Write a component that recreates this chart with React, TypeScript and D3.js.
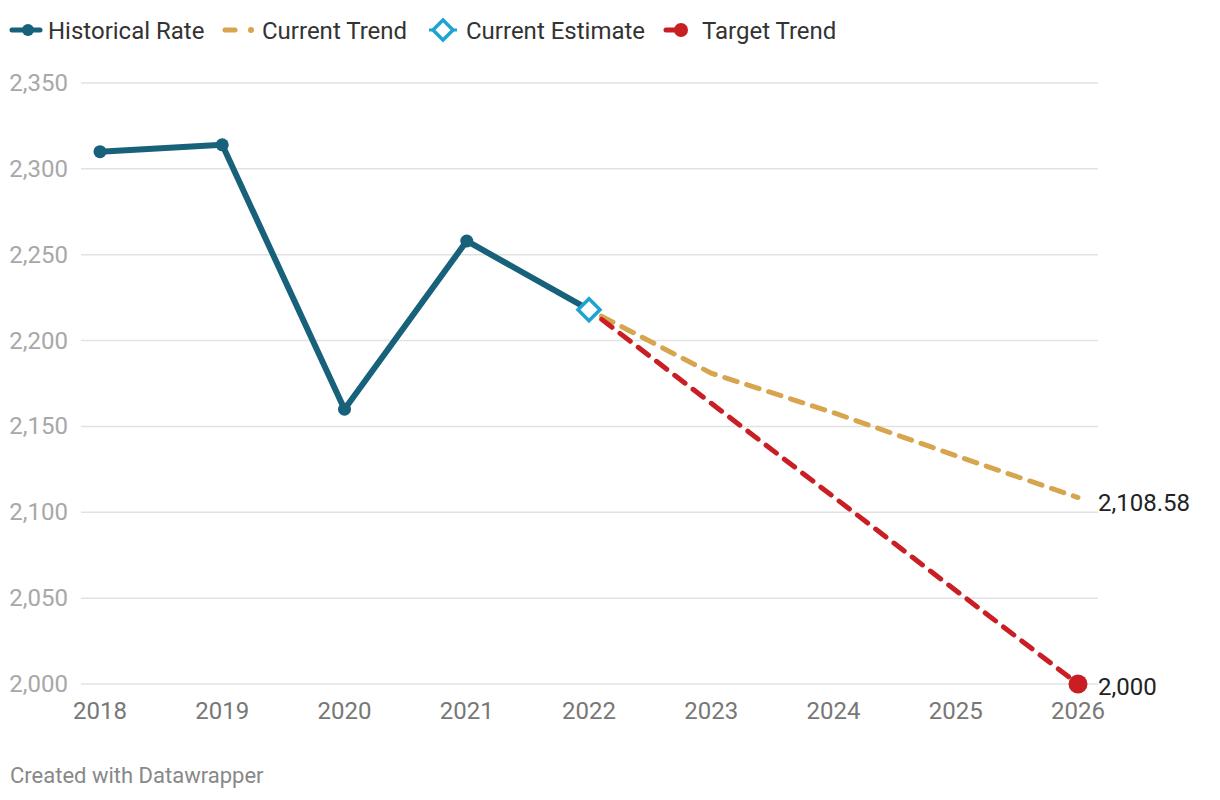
import React from 'react';
import * as d3 from 'd3';

// values
const years = [2018, 2019, 2020, 2021, 2022, 2023, 2024, 2025, 2026];
const historical = [
  { year: 2018, value: 2310 },
  { year: 2019, value: 2314 },
  { year: 2020, value: 2160 },
  { year: 2021, value: 2258 },
  { year: 2022, value: 2218 },
];
const currentTrend = [
  { year: 2022, value: 2218 },
  { year: 2023, value: 2181 },
  { year: 2024, value: 2158 },
  { year: 2025, value: 2133 },
  { year: 2026, value: 2108.58 },
];
const targetTrend = [
  { year: 2022, value: 2218 },
  { year: 2023, value: 2163.5 },
  { year: 2024, value: 2109 },
  { year: 2025, value: 2054.5 },
  { year: 2026, value: 2000 },
];
const yTicks = [2000, 2050, 2100, 2150, 2200, 2250, 2300, 2350];

const WIDTH = 1220;
const HEIGHT = 800;
const FONT = 'Roboto, "Noto Sans", sans-serif';

const COLORS = {
  historical: '#17617b',
  current: '#d6a54e',
  estimate: '#1ea3d2',
  target: '#c91f24',
  grid: '#e2e2e2',
};

type Pt = { year: number; value: number };

const App: React.FC = () => {
  const x = d3.scaleLinear().domain([2018, 2026]).range([100, 1078]);
  const y = d3.scaleLinear().domain([2000, 2350]).range([684, 83]);

  const line = d3
    .line<Pt>()
    .x(d => x(d.year))
    .y(d => y(d.value));

  const fmt = d3.format(',');
  const last = (arr: Pt[]) => arr[arr.length - 1];
  const est = last(historical);
  const ex = x(est.year);
  const ey = y(est.value);
  const d = 11; // diamond half-size

  return (
    <div style={{ position: 'absolute', left: 0, top: 0 }}>
      <svg width={WIDTH} height={HEIGHT} style={{ display: 'block', background: '#fff' }} fontFamily={FONT}>
        {/* legend */}
        <g fontSize={24} fill="#333">
          <line x1={12} x2={40} y1={30} y2={30} stroke={COLORS.historical} strokeWidth={5} strokeLinecap="round" />
          <circle cx={28} cy={30} r={6} fill={COLORS.historical} />
          <text x={48} y={38.5}>Historical Rate</text>

          <line x1={225} x2={235} y1={30} y2={30} stroke={COLORS.current} strokeWidth={5} strokeLinecap="round" />
          <circle cx={251} cy={30} r={3} fill={COLORS.current} />
          <text x={262} y={38.5}>Current Trend</text>

          <path
            d={`M443,20 L453,30 L443,40 L433,30 Z`}
            fill="#fff"
            stroke={COLORS.estimate}
            strokeWidth={3.5}
          />
          <line x1={429} x2={433} y1={30} y2={30} stroke={COLORS.estimate} strokeWidth={3} />
          <line x1={453} x2={457} y1={30} y2={30} stroke={COLORS.estimate} strokeWidth={3} />
          <text x={466} y={38.5}>Current Estimate</text>

          <line x1={666} x2={680} y1={30} y2={30} stroke={COLORS.target} strokeWidth={5} strokeLinecap="round" />
          <circle cx={681} cy={30} r={7} fill={COLORS.target} />
          <text x={702} y={38.5}>Target Trend</text>
        </g>

        {/* grid + y axis */}
        <g>
          {yTicks.map(t => (
            <g key={t}>
              <line x1={81} x2={1098} y1={y(t)} y2={y(t)} stroke={COLORS.grid} strokeWidth={1.5} />
              <text x={68} y={y(t) + 8} textAnchor="end" fontSize={24} fill="#a8a8a8">
                {fmt(t)}
              </text>
            </g>
          ))}
        </g>

        {/* x axis labels */}
        <g>
          {years.map(yr => (
            <text key={yr} x={x(yr)} y={719} textAnchor="middle" fontSize={24} fill="#777">
              {yr}
            </text>
          ))}
        </g>

        {/* trends */}
        <path
          d={line(currentTrend) || ''}
          fill="none"
          stroke={COLORS.current}
          strokeWidth={5}
          strokeDasharray="13 10"
          strokeDashoffset={-14}
          strokeLinecap="round"
        />
        <path
          d={line(targetTrend) || ''}
          fill="none"
          stroke={COLORS.target}
          strokeWidth={5}
          strokeDasharray="13 10"
          strokeDashoffset={-16}
          strokeLinecap="round"
        />
        <circle cx={x(last(targetTrend).year)} cy={y(last(targetTrend).value)} r={9.5} fill={COLORS.target} />

        {/* historical line */}
        <path
          d={line(historical) || ''}
          fill="none"
          stroke={COLORS.historical}
          strokeWidth={6}
          strokeLinejoin="round"
        />
        {historical.slice(0, -1).map(p => (
          <circle key={p.year} cx={x(p.year)} cy={y(p.value)} r={6.5} fill={COLORS.historical} />
        ))}

        {/* current estimate */}
        <path
          d={`M${ex},${ey - d} L${ex + d},${ey} L${ex},${ey + d} L${ex - d},${ey} Z`}
          fill="#fff"
          stroke={COLORS.estimate}
          strokeWidth={3.5}
        />

        {/* end labels */}
        <g fontSize={24} fill="#222">
          <text x={1098} y={y(last(currentTrend).value) + 13}>{fmt(last(currentTrend).value)}</text>
          <text x={1098} y={y(last(targetTrend).value) + 11}>{fmt(last(targetTrend).value)}</text>
        </g>

        {/* footer */}
        <text x={10} y={783} fontSize={22} fill="#888">Created with Datawrapper</text>
      </svg>
    </div>
  );
};

export default App;
